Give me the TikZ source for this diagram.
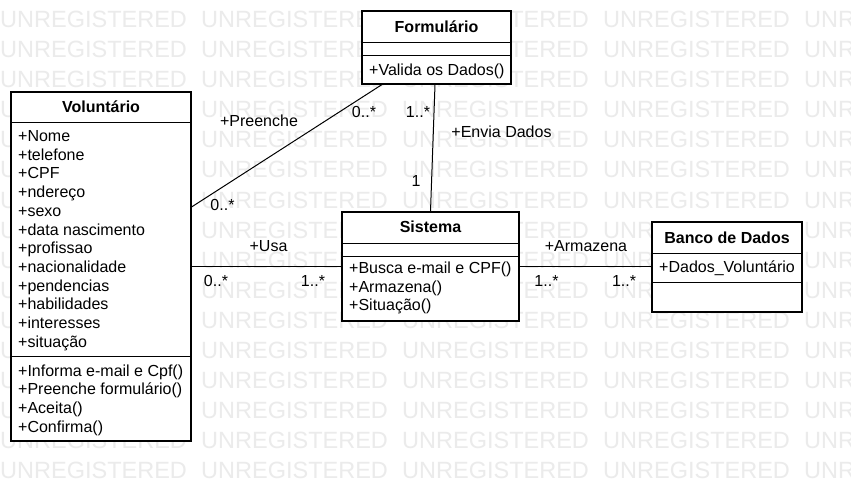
\documentclass[tikz,border=0pt]{standalone}
\usepackage{fontspec}
\setmainfont{Liberation Sans}
\usetikzlibrary{positioning}
\definecolor{wmark}{HTML}{EBEBEB}

\begin{document}
\begin{tikzpicture}[x=1pt, y=-1pt,
    classbox/.style={draw, fill=white, line width=1.1pt, inner sep=0pt},
    divider/.style={line width=1.1pt},
    classname/.style={anchor=base, inner sep=0pt, font=\bfseries\fontsize{16}{18.7}\selectfont},
    member/.style={anchor=base west, inner sep=0pt, font=\fontsize{16}{18.7}\selectfont},
    rolelabel/.style={inner sep=0pt, font=\fontsize{16}{18.7}\selectfont},
    assoc/.style={line width=1pt},
    wmtext/.style={anchor=base west, inner sep=0pt, text=wmark, font=\fontsize{23.5}{28}\selectfont}]
    % page and watermark
    \clip (0,0) rectangle (851,492);
    \fill[white] (0,0) rectangle (851,492);
    \foreach \r in {0,...,15}
        \foreach \c in {0,...,4}
            \node[wmtext] at (201*\c, 27.4+30.1*\r) {UNREGISTERED};

    % classes
    \node[classbox, minimum width=180, minimum height=349] (vol) at (101,266.5) {};
    \draw[divider] ([yshift=-31]vol.north west) -- ([yshift=-31]vol.north east);
    \draw[divider] ([yshift=-265]vol.north west) -- ([yshift=-265]vol.north east);

    \node[classbox, minimum width=149, minimum height=73] (form) at (436.5,47.5) {};
    \draw[divider] ([yshift=-32]form.north west) -- ([yshift=-32]form.north east);
    \draw[divider] ([yshift=-45]form.north west) -- ([yshift=-45]form.north east);

    \node[classbox, minimum width=177, minimum height=109] (sis) at (430.5,266.5) {};
    \draw[divider] ([yshift=-32]sis.north west) -- ([yshift=-32]sis.north east);
    \draw[divider] ([yshift=-45]sis.north west) -- ([yshift=-45]sis.north east);

    \node[classbox, minimum width=150, minimum height=90] (bd) at (727,267) {};
    \draw[divider] ([yshift=-32]bd.north west) -- ([yshift=-32]bd.north east);
    \draw[divider] ([yshift=-61]bd.north west) -- ([yshift=-61]bd.north east);

    % class texts
    \node[classname] (volname) at (101,112.5) {Voluntário};
    \foreach \t [count=\i from 0] in {+Nome,+telefone,+CPF,+ndereço,+sexo,+data nascimento,+profissao,+nacionalidade,+pendencias,+habilidades,+interesses,+situação}
        \node[member] (volattr\i) at (18,141.5+18.7*\i) {\t};
    \foreach \t [count=\i from 0] in {+Informa e-mail e Cpf(),+Preenche formulário(),+Aceita(),+Confirma()}
        \node[member] (volop\i) at (18,376+18.7*\i) {\t};

    \node[classname] (formname) at (436.5,32.5) {Formulário};
    \node[member] (formop) at (369,75.5) {+Valida os Dados()};

    \node[classname] (sisname) at (430.5,232.5) {Sistema};
    \foreach \t [count=\i from 0] in {+Busca e-mail e CPF(),+Armazena(),+Situação()}
        \node[member] (sisop\i) at (349,273.5+18.7*\i) {\t};

    \node[classname] (bdname) at (727,243.5) {Banco de Dados};
    \node[member] (bdattr) at (659,272.5) {+Dados\_Voluntário};

    % associations
    \draw[assoc] ([yshift=59.5]vol.east) -- ([xshift=-54.5]form.south);
    \draw[assoc] ([xshift=-1.5]form.south) -- (sis.north);
    \draw[assoc] (vol.east) -- (sis.west);
    \draw[assoc] (sis.east) -- (sis.east -| bd.west);

    % association labels
    \node[rolelabel] (preenche) at (259,120.5) {+Preenche};
    \node[rolelabel] (preencheform) at (364,111.5) {0..*};
    \node[rolelabel] (preenchevol) at (222.5,204.5) {0..*};
    \node[rolelabel] (envia) at (501.5,132) {+Envia Dados};
    \node[rolelabel] (enviaform) at (418,111.5) {1..*};
    \node[rolelabel] (enviasis) at (416,180.5) {1};
    \node[rolelabel] (usa) at (268.5,246.5) {+Usa};
    \node[rolelabel] (usavol) at (216,281) {0..*};
    \node[rolelabel] (usasis) at (313,281) {1..*};
    \node[rolelabel] (armazena) at (586,246.5) {+Armazena};
    \node[rolelabel] (armazenasis) at (546.5,281) {1..*};
    \node[rolelabel] (armazenabd) at (624,281) {1..*};
\end{tikzpicture}
\end{document}
